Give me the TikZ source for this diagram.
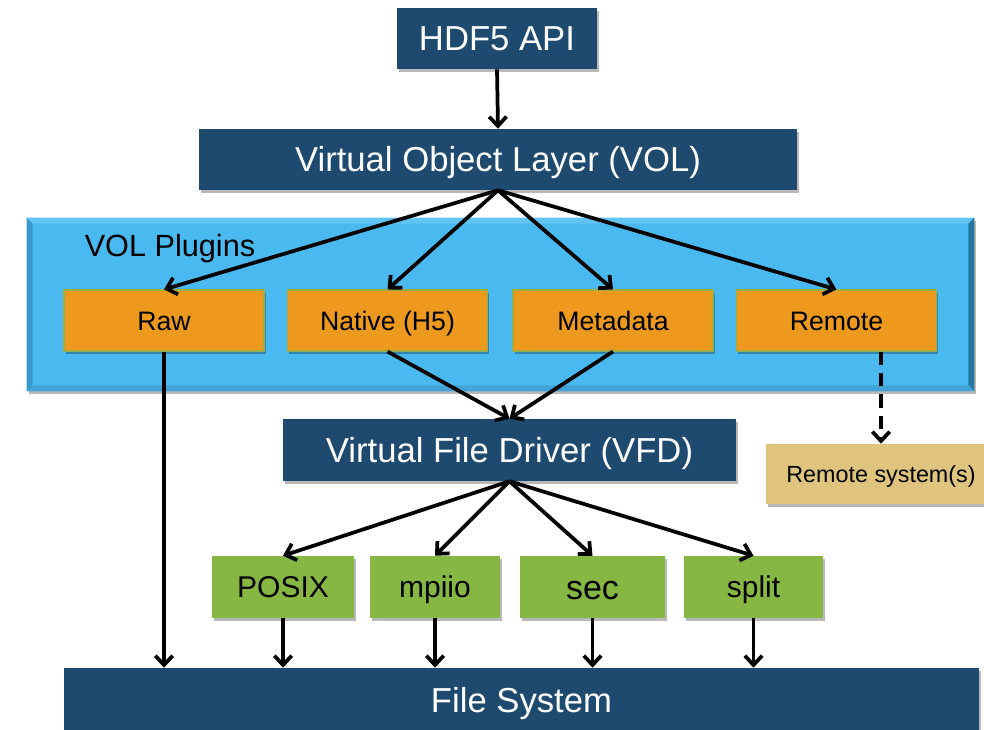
\documentclass[tikz,border=0pt]{standalone}
\usepackage{fontspec}
\setmainfont{Liberation Sans}
\usetikzlibrary{arrows.meta,shadows,fit,calc}
\definecolor{dkblue}{HTML}{1F4A6F}
\definecolor{orng}{HTML}{EC991E}
\definecolor{grn}{HTML}{86B743}
\definecolor{tan}{HTML}{DEC47C}
\definecolor{ltblue}{HTML}{49B9EF}
\definecolor{bevtop}{HTML}{62C4F2}
\definecolor{bevleft}{HTML}{3A99CC}
\definecolor{bevright}{HTML}{2A74A0}
\definecolor{bevbot}{HTML}{43A3D6}
\definecolor{orngedge}{HTML}{9AAE48}
\tikzset{
  shad/.style={drop shadow={shadow xshift=1.2pt,shadow yshift=-2pt,opacity=0.28,fill=black}},
  bluebox/.style={shad,text height=18.7pt,text depth=0pt,fill=dkblue,text=white,inner sep=0pt,font=\fontsize{26}{30}\selectfont},
  plugbox/.style={shad,text height=14.4pt,text depth=0pt,fill=orng,draw=orngedge,line width=0.8pt,inner sep=0pt,minimum width=150pt,minimum height=45.75pt,font=\fontsize{20}{24}\selectfont},
  drvbox/.style={shad,text height=16.2pt,text depth=0pt,fill=grn,inner sep=0pt,minimum height=46.5pt,font=\fontsize{22.5}{26}\selectfont},
  tanbox/.style={shad,text height=12.6pt,text depth=0pt,fill=tan,inner sep=0pt,font=\fontsize{17.5}{21}\selectfont},
  arr/.style={line width=2.8pt,-{Straight Barb[length=7pt,width=13pt]}},
  dasharr/.style={line width=2.8pt,dash pattern=on 10pt off 6pt,-{Straight Barb[length=7pt,width=13pt]}}
}
\begin{document}
\begin{tikzpicture}[x=0.75pt,y=-0.75pt]
\useasboundingbox (0,0) rectangle (984,729);
% container
\node[fit={(27,218)(974,391)},inner sep=0pt,fill=ltblue,shad] (plugins) {};
\fill[bevtop] (plugins.north west) -- (plugins.north east) -- ($(plugins.north east)+(-6,6)$) -- ($(plugins.north west)+(6,6)$) -- cycle;
\fill[bevleft] (plugins.north west) -- ($(plugins.north west)+(6,6)$) -- ($(plugins.south west)+(6,-6)$) -- (plugins.south west) -- cycle;
\fill[bevright] (plugins.north east) -- (plugins.south east) -- ($(plugins.south east)+(-6,-6)$) -- ($(plugins.north east)+(-6,6)$) -- cycle;
\fill[bevbot] (plugins.south west) -- (plugins.south east) -- ($(plugins.south east)+(-6,-6)$) -- ($(plugins.south west)+(6,-6)$) -- cycle;
\node[anchor=base,font=\fontsize{23}{27}\selectfont] (plabel) at (170,256) {VOL Plugins};
% blue boxes
\node[bluebox,minimum width=150pt,minimum height=45.75pt] (api) at (497,38.5) {HDF5 API};
\node[bluebox,minimum width=448.5pt,minimum height=45.75pt] (vol) at (498,159.5) {Virtual Object Layer (VOL)};
\node[bluebox,minimum width=339.75pt,minimum height=46.5pt] (vfd) at (509.5,450) {Virtual File Driver (VFD)};
\node[bluebox,minimum width=686.25pt,minimum height=48pt] (fs) at (521.5,700) {File System};
% plugins
\node[plugbox] (raw) at (164,320.5) {Raw};
\node[plugbox] (native) at (387.5,320.5) {Native (H5)};
\node[plugbox] (meta) at (613,320.5) {Metadata};
\node[plugbox] (remote) at (836.5,320.5) {Remote};
% remote system
\node[tanbox,minimum width=172.5pt,minimum height=45pt] (rsys) at (881,474) {Remote system(s)};
% drivers
\node[drvbox,minimum width=106.5pt] (posix) at (283,587) {POSIX};
\node[drvbox,minimum width=97.5pt] (mpiio) at (435,587) {mpiio};
\node[drvbox,minimum width=108.75pt,text height=18.4pt,font=\fontsize{25.5}{29}\selectfont] (sec) at (592.5,587) {sec};
\node[drvbox,minimum width=104.25pt] (split) at (753.5,587) {split};
% connectors
\draw[arr] (api.south) -- (vol.north);
\foreach \t in {raw,native,meta,remote} \draw[arr] (vol.south) -- (\t.north);
\draw[arr] (native.south) -- (vfd.north);
\draw[arr] (meta.south) -- (vfd.north);
\draw[dasharr] (rsys.north |- remote.south) -- (rsys.north);
\foreach \t in {posix,mpiio,sec,split} \draw[arr] (vfd.south) -- (\t.north);
\foreach \t in {raw,posix,mpiio,sec,split} \draw[arr] (\t.south) -- (\t.south |- fs.north);
\end{tikzpicture}
\end{document}
